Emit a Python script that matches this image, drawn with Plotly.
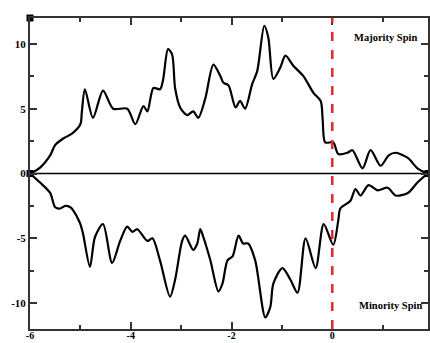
import plotly.graph_objects as go

# Energy (x) and DOS values
maj_x = [-6.00, -5.80, -5.60, -5.50, -5.34, -5.16, -5.00, -4.97, -4.91, -4.75, -4.55, -4.35,
         -4.07, -3.91, -3.75, -3.67, -3.55, -3.42, -3.36, -3.26, -3.18, -3.12, -3.02, -2.88,
         -2.76, -2.66, -2.52, -2.36, -2.22, -2.16, -2.06, -1.92, -1.83, -1.73, -1.59, -1.49,
         -1.35, -1.27, -1.17, -1.03, -0.93, -0.77, -0.57, -0.37, -0.23, -0.19, -0.14, 0.02,
         0.12, 0.30, 0.40, 0.60, 0.76, 0.96, 1.12, 1.26, 1.50, 1.69, 1.89]
maj_y = [0.0, 0.46, 1.4, 2.2, 2.7, 3.1, 3.8, 4.8, 6.5, 4.3, 6.4, 5.0,
         5.0, 3.8, 5.2, 4.8, 6.6, 6.5, 7.2, 9.6, 9.2, 6.6, 5.1, 4.5,
         4.8, 4.3, 5.8, 8.4, 7.5, 7.0, 6.8, 5.1, 5.6, 5.0, 6.9, 7.9,
         11.4, 10.5, 7.3, 8.2, 9.1, 8.3, 7.5, 6.2, 5.6, 4.1, 2.4, 2.4,
         1.5, 1.6, 1.8, 0.4, 1.8, 0.6, 1.4, 1.6, 1.2, 0.4, 0.0]

min_x = [-6.00, -5.80, -5.60, -5.50, -5.40, -5.30, -5.20, -5.15, -5.01, -4.95, -4.81, -4.71,
         -4.55, -4.37, -4.21, -4.07, -3.97, -3.87, -3.67, -3.57, -3.42, -3.22, -3.12, -2.98,
         -2.92, -2.76, -2.68, -2.62, -2.56, -2.42, -2.26, -2.18, -2.08, -1.98, -1.86, -1.77,
         -1.67, -1.53, -1.33, -1.23, -1.17, -0.99, -0.83, -0.69, -0.53, -0.33, -0.17, 0.02,
         0.12, 0.16, 0.36, 0.46, 0.56, 0.72, 0.90, 1.10, 1.26, 1.50, 1.69, 1.89]
min_y = [0.0, -0.7, -1.5, -2.6, -2.7, -2.5, -2.6, -2.8, -3.8, -4.6, -7.2, -4.9,
         -3.9, -6.9, -5.2, -4.1, -4.5, -4.3, -5.2, -5.0, -6.7, -9.5, -8.2, -5.2,
         -4.8, -5.9, -5.4, -4.3, -4.9, -6.7, -9.1, -8.5, -6.7, -6.4, -4.8, -5.4,
         -5.4, -6.7, -11.1, -10.3, -8.5, -7.3, -8.2, -9.2, -5.0, -7.3, -3.9, -5.5,
         -3.6, -2.7, -2.1, -1.2, -1.7, -0.9, -1.3, -1.1, -1.7, -1.5, -0.7, 0.0]

corner_x = [-6.0, -6.0, 1.9]
corner_y = [12.0, 0.0, 0.0]

x_ticks = [-6, -4, -2, 0]
x_labels = ["-6", "-4", "-2", "0"]
y_ticks = [-10, -5, 0, 5, 10]
y_labels = ["-10", "-5", "0", "5", "10"]

fig = go.Figure()
fig.add_trace(go.Scatter(x=[-6, 1.9], y=[0, 0], mode="lines",
                         line=dict(color="black", width=1.6), hoverinfo="skip"))
fig.add_trace(go.Scatter(x=maj_x, y=maj_y, mode="lines",
                         line=dict(color="black", width=2.2, shape="spline", smoothing=0.8)))
fig.add_trace(go.Scatter(x=min_x, y=min_y, mode="lines",
                         line=dict(color="black", width=2.2, shape="spline", smoothing=0.8)))
fig.add_trace(go.Scatter(x=corner_x, y=corner_y, mode="markers",
                         marker=dict(symbol="square", size=7, color="black"), cliponaxis=False))
fig.add_vline(x=0, line=dict(color="#e8262b", width=2.5, dash="dash"))

tickfont = dict(family="Liberation Serif", size=11, color="black", weight="bold")
xtickfont = dict(family="Liberation Serif", size=10, color="black", weight="bold")
fig.add_annotation(x=1.06, y=10.5, text="Majority Spin", showarrow=False,
                   font=dict(family="Liberation Serif", size=10.5, color="black", weight="bold"))
fig.add_annotation(x=1.16, y=-10.15, text="Minority Spin", showarrow=False,
                   font=dict(family="Liberation Serif", size=10.5, color="black", weight="bold"))

fig.update_layout(
    width=430, height=343,
    margin=dict(l=30, r=2, t=18, b=14),
    paper_bgcolor="white", plot_bgcolor="white",
    showlegend=False,
    xaxis=dict(range=[-6, 1.9], tickvals=x_ticks, ticktext=x_labels, automargin=False,
               ticks="inside", ticklen=7, tickwidth=1.5, tickcolor="#333",
               ticklabelstandoff=-4,
               showline=True, linecolor="#333", linewidth=2, mirror="ticks",
               showgrid=False, zeroline=False, tickfont=xtickfont,
               minor=dict(ticks="inside", dtick=1, ticklen=4, tickcolor="#333", showgrid=False)),
    yaxis=dict(range=[-12, 12], tickvals=y_ticks, ticktext=y_labels, automargin=False,
               ticks="inside", ticklen=7, tickwidth=1.5, tickcolor="#333",
               showline=True, linecolor="#333", linewidth=2, mirror="ticks",
               showgrid=False, zeroline=False, tickfont=tickfont,
               minor=dict(ticks="inside", dtick=2.5, ticklen=4, tickcolor="#333", showgrid=False)),
)
fig.write_html("out.html")
